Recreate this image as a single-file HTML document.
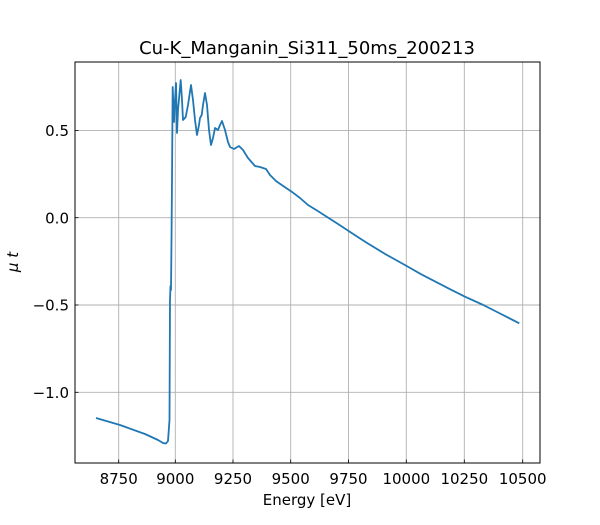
<!DOCTYPE html>
<html><head><meta charset="utf-8"><style>
body{margin:0;background:#fff;}
svg text{font-family:"DejaVu Sans","Liberation Sans",sans-serif;fill:#000;}
</style></head><body>
<svg width="600" height="520" viewBox="0 0 600 520" xmlns="http://www.w3.org/2000/svg">
<rect width="600" height="520" fill="#fff"/>
<g stroke="#b0b0b0" stroke-width="0.9">
<line x1="118.7" y1="62" x2="118.7" y2="463"/>
<line x1="175.3" y1="62" x2="175.3" y2="463"/>
<line x1="233" y1="62" x2="233" y2="463"/>
<line x1="290.7" y1="62" x2="290.7" y2="463"/>
<line x1="348.5" y1="62" x2="348.5" y2="463"/>
<line x1="406.3" y1="62" x2="406.3" y2="463"/>
<line x1="464.3" y1="62" x2="464.3" y2="463"/>
<line x1="522.7" y1="62" x2="522.7" y2="463"/>
<line x1="75" y1="130.4" x2="540" y2="130.4"/>
<line x1="75" y1="217.7" x2="540" y2="217.7"/>
<line x1="75" y1="305" x2="540" y2="305"/>
<line x1="75" y1="392.3" x2="540" y2="392.3"/>
</g>
<g stroke="#000" stroke-width="0.8">
<line x1="118.7" y1="463" x2="118.7" y2="459.5"/>
<line x1="175.3" y1="463" x2="175.3" y2="459.5"/>
<line x1="233" y1="463" x2="233" y2="459.5"/>
<line x1="290.7" y1="463" x2="290.7" y2="459.5"/>
<line x1="348.5" y1="463" x2="348.5" y2="459.5"/>
<line x1="406.3" y1="463" x2="406.3" y2="459.5"/>
<line x1="464.3" y1="463" x2="464.3" y2="459.5"/>
<line x1="522.7" y1="463" x2="522.7" y2="459.5"/>
<line x1="75" y1="130.4" x2="78.5" y2="130.4"/>
<line x1="75" y1="217.7" x2="78.5" y2="217.7"/>
<line x1="75" y1="305" x2="78.5" y2="305"/>
<line x1="75" y1="392.3" x2="78.5" y2="392.3"/>
</g>
<polyline fill="none" stroke="#1f77b4" stroke-width="1.8" stroke-linejoin="round" points="
96,418 120,425 145,434 158,440 163,443 166,443.5 168,441 169.5,420 170,300 170.5,286 171,290 171.5,240 172,180 172.5,110 172.7,87 173.5,110 174,122 175,100 176,83 177,133 178,110 180.7,80 182,100 183,120 185.7,117 188,105 191,85 193,100 195,120 197,135 199,125 200,118 201.7,115 203,105 205,93 207,105 209,130 211,145 213,138 215,128 218,130 220,125 222,121 225,130 228,142 230,147 234,149 239,146 243,150 248,158 255,166 260,167 266,169 270,175 276,181 281.7,185 291.7,191.7 300,198 308,205 317,210.5 326.7,216.7 338,224 348.3,230.7 357,236.5 366.7,242.7 386,254.5 406.7,266 421,274.2 436.7,282.3 451,289.7 465,296.7 483.3,305 500,313.5 519.3,323.3"/>
<rect x="75" y="62" width="465" height="401" fill="none" stroke="#000" stroke-width="1"/>
<g font-size="15" text-anchor="middle">
<text x="118.7" y="484">8750</text>
<text x="175.3" y="484">9000</text>
<text x="233" y="484">9250</text>
<text x="290.7" y="484">9500</text>
<text x="348.5" y="484">9750</text>
<text x="406.3" y="484">10000</text>
<text x="464.3" y="484">10250</text>
<text x="522.7" y="484">10500</text>
</g>
<g font-size="15" text-anchor="end">
<text x="69" y="136">0.5</text>
<text x="69" y="223.3">0.0</text>
<text x="69" y="310.6">−0.5</text>
<text x="69" y="397.9">−1.0</text>
</g>
<text x="307" y="505" font-size="15" text-anchor="middle">Energy [eV]</text>
<text transform="translate(18,262) rotate(-90)" font-size="15" text-anchor="middle" font-style="italic">μ t</text>
<text x="307" y="54" font-size="18" text-anchor="middle">Cu-K_Manganin_Si311_50ms_200213</text>
</svg>
</body></html>
